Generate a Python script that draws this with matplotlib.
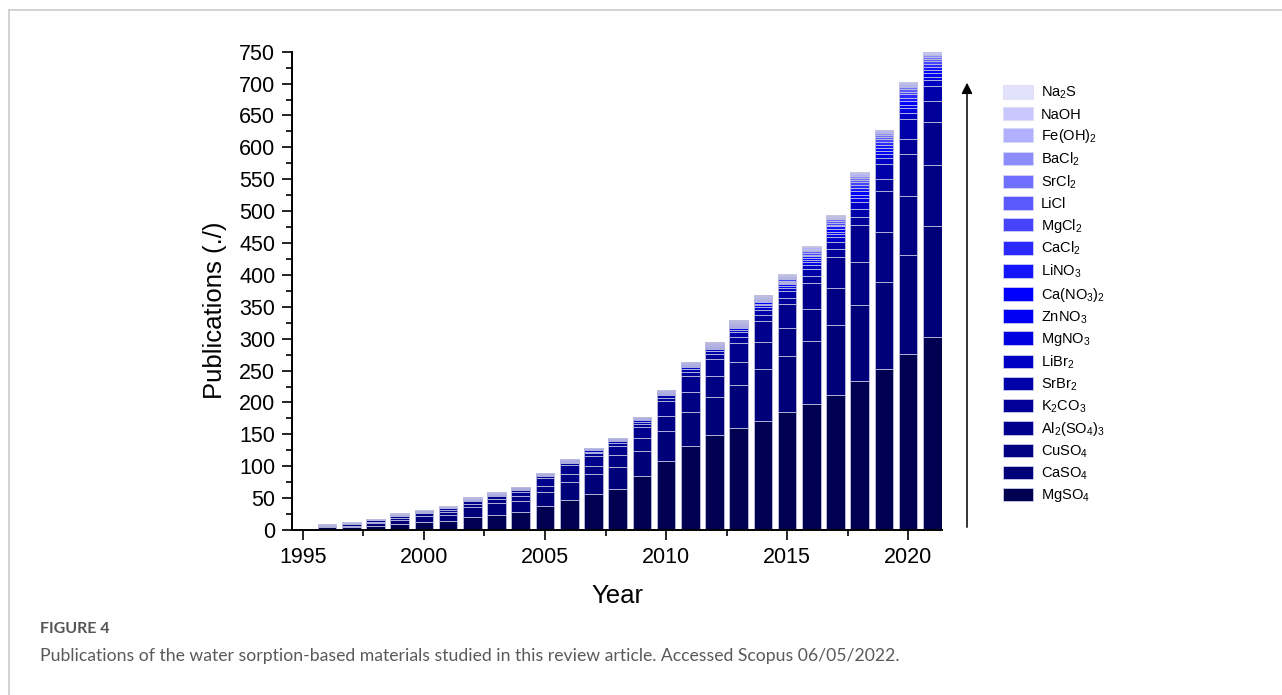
import numpy as np
from matplotlib import pyplot as plt
from matplotlib.patches import Patch
from matplotlib.lines import Line2D
from matplotlib.ticker import MultipleLocator

years = [1996, 1997, 1998, 1999, 2000, 2001, 2002, 2003, 2004, 2005, 2006, 2007, 2008,
         2009, 2010, 2011, 2012, 2013, 2014, 2015, 2016, 2017, 2018, 2019, 2020, 2021]

# publications per material, bottom of the stack first
mgso4 = [4, 5, 7, 10, 13, 14, 21, 24, 28, 38, 47, 56, 65, 85, 108, 131, 149, 160, 171, 185, 198, 211, 233, 252, 276, 303]
caso4 = [2, 2, 4, 5, 9, 9, 15, 18, 18, 21, 29, 32, 34, 39, 47, 54, 60, 68, 81, 88, 98, 110, 120, 137, 156, 173]
cuso4 = [1, 2, 2, 4, 4, 6, 4, 7, 8, 10, 12, 12, 18, 21, 24, 32, 33, 36, 43, 44, 50, 59, 68, 78, 92, 96]
al2so43 = [1, 1, 2, 3, 3, 3, 5, 4, 6, 12, 14, 16, 15, 16, 23, 24, 26, 30, 32, 37, 42, 48, 57, 65, 66, 68]
k2co3 = [0, 1, 1, 1, 1, 2, 2, 2, 3, 3, 3, 4, 4, 5, 5, 7, 8, 9, 10, 10, 10, 12, 13, 18, 23, 32]
srbr2 = [0, 0, 0, 1, 0, 1, 1, 1, 2, 2, 2, 3, 3, 4, 4, 5, 5, 7, 8, 10, 12, 12, 13, 24, 31, 24]
libr2 = [0, 0, 0, 0, 1, 0, 1, 1, 1, 1, 1, 2, 2, 2, 2, 3, 3, 4, 5, 5, 6, 7, 10, 9, 10, 9]
mgno3 = [0, 0, 0, 0, 0, 0, 0, 0, 1, 1, 1, 1, 1, 1, 1, 1, 2, 2, 3, 3, 4, 5, 7, 6, 7, 6]
znno3 = [0, 0, 0, 0, 0, 0, 0, 0, 1, 1, 1, 1, 1, 1, 1, 1, 1, 2, 2, 3, 3, 4, 5, 5, 6, 5]
cano32 = [0, 0, 0, 0, 0, 0, 0, 0, 0, 0, 1, 1, 1, 1, 1, 1, 1, 2, 2, 2, 3, 4, 5, 5, 6, 5]
lino3 = [0, 0, 0, 0, 0, 0, 0, 0, 0, 0, 0, 0, 1, 1, 1, 1, 1, 2, 2, 2, 3, 4, 5, 5, 5, 5]
cacl2 = [0, 0, 0, 1, 0, 0, 0, 1, 0, 0, 0, 0, 0, 1, 1, 1, 1, 1, 2, 2, 3, 3, 5, 5, 5, 5]
mgcl2 = [0, 0, 0, 0, 0, 1, 0, 0, 0, 0, 0, 0, 0, 0, 1, 1, 1, 1, 2, 2, 3, 3, 4, 4, 4, 4]
licl = [0, 0, 1, 0, 0, 0, 1, 0, 0, 0, 0, 0, 0, 0, 0, 1, 1, 1, 1, 2, 2, 3, 4, 3, 4, 4]
srcl2 = [1, 0, 0, 0, 1, 0, 0, 0, 0, 0, 0, 0, 0, 0, 0, 1, 1, 1, 1, 2, 2, 2, 3, 3, 3, 3]
bacl2 = [0, 1, 0, 0, 0, 1, 0, 1, 0, 0, 0, 0, 0, 0, 0, 0, 1, 1, 1, 1, 2, 2, 3, 3, 3, 3]
feoh2 = [1, 0, 1, 0, 0, 0, 1, 0, 0, 0, 0, 0, 0, 0, 0, 0, 1, 1, 1, 1, 2, 2, 3, 3, 2, 2]
naoh = [0, 1, 0, 1, 0, 0, 0, 0, 0, 0, 0, 0, 0, 0, 0, 0, 0, 1, 1, 1, 1, 2, 2, 2, 2, 2]
na2s = [0, 0, 0, 0, 0, 0, 0, 0, 0, 0, 0, 0, 0, 0, 0, 0, 0, 0, 1, 1, 1, 1, 2, 1, 1, 1]

labels = ['MgSO$_4$', 'CaSO$_4$', 'CuSO$_4$', 'Al$_2$(SO$_4$)$_3$', 'K$_2$CO$_3$', 'SrBr$_2$',
          'LiBr$_2$', 'MgNO$_3$', 'ZnNO$_3$', 'Ca(NO$_3$)$_2$', 'LiNO$_3$', 'CaCl$_2$',
          'MgCl$_2$', 'LiCl', 'SrCl$_2$', 'BaCl$_2$', 'Fe(OH)$_2$', 'NaOH', 'Na$_2$S']
colorlst = ['#000050', '#000078', '#000082', '#00008c', '#000099', '#0000a8', '#0000c4',
            '#0000e0', '#0000f5', '#0000ff', '#1414ff', '#2a2aff', '#4545ff', '#5a5aff',
            '#7070ff', '#8c8cff', '#b0b0ff', '#c8c8ff', '#e2e2fc']


def plot_graph():
    series = [mgso4, caso4, cuso4, al2so43, k2co3, srbr2, libr2, mgno3, znno3, cano32,
              lino3, cacl2, mgcl2, licl, srcl2, bacl2, feoh2, naoh, na2s]

    fig = plt.figure(figsize=(12.82, 6.95), dpi=100)
    ax = fig.add_axes([0.2278, 0.2374, 0.507, 0.6882])

    btm = np.zeros(len(years))
    for vals, col in zip(series, colorlst):
        vals = np.array(vals, dtype=float)
        ax.bar(years, vals, bottom=btm, width=0.77, color=col,
               edgecolor=(0.74, 0.74, 0.88), linewidth=0.6)
        btm += vals

    ax.set_xlim(1994.55, 2021.4)
    ax.set_ylim(0, 750)
    ax.xaxis.set_major_locator(MultipleLocator(5))
    ax.xaxis.set_minor_locator(MultipleLocator(2.5))
    ax.yaxis.set_major_locator(MultipleLocator(50))
    ax.yaxis.set_minor_locator(MultipleLocator(25))
    ax.spines['top'].set_visible(False)
    ax.spines['right'].set_visible(False)
    for sp in ['left', 'bottom']:
        ax.spines[sp].set_linewidth(1.4)
    ax.tick_params(which='major', length=7, width=1.2, labelsize=15.5, pad=5)
    ax.tick_params(which='minor', length=4, width=1.2)

    ax.set_xlabel('Year', fontsize=18.5, labelpad=12)
    ax.set_ylabel('Publications (./)', fontsize=18.5)
    ax.yaxis.set_label_coords(-0.1, 0.46)

    # arrow next to the bars
    ax.annotate('', xy=(0.7543, 0.885), xytext=(0.7543, 0.2374),
                xycoords='figure fraction', textcoords='figure fraction',
                arrowprops=dict(arrowstyle='-|>', color='black', lw=1.1, mutation_scale=16))

    handles = [Patch(facecolor=c, edgecolor=(0.85, 0.85, 0.95), linewidth=0.5) for c in colorlst]
    fig.legend(handles[::-1], labels[::-1], loc='upper left', bbox_to_anchor=(0.7776, 0.886),
               frameon=False, fontsize=10.5, handlelength=2.1, handleheight=1.05,
               labelspacing=0.375, handletextpad=0.5, borderaxespad=0)

    # page frame and caption
    fig.add_artist(Line2D([9 / 1282, 1], [1 - 10 / 695, 1 - 10 / 695], color='#cccccc', lw=1.2))
    fig.add_artist(Line2D([9 / 1282, 9 / 1282], [0, 1 - 10 / 695], color='#cccccc', lw=1.2))
    fig.text(40 / 1282, 1 - 629 / 695, 'FIGURE 4', family='Lato', fontweight='bold',
             fontsize=11.5, color='#555555', va='center')
    fig.text(40 / 1282, 1 - 656 / 695,
             'Publications of the water sorption-based materials studied in this review article. '
             'Accessed Scopus 06/05/2022.',
             family='Lato', fontsize=12.7, color='#5a5a5a', va='center')

    plt.savefig('out.png', dpi=100)
    plt.close()


def main():
    plt.rcParams['font.family'] = ['Liberation Sans', 'DejaVu Sans']
    plt.rcParams['mathtext.fontset'] = 'custom'
    plt.rcParams['mathtext.rm'] = 'Liberation Sans'
    plt.rcParams['mathtext.it'] = 'Liberation Sans:italic'
    plt.rcParams['mathtext.bf'] = 'Liberation Sans:bold'
    plt.rcParams['mathtext.default'] = 'regular'
    plot_graph()


main()
